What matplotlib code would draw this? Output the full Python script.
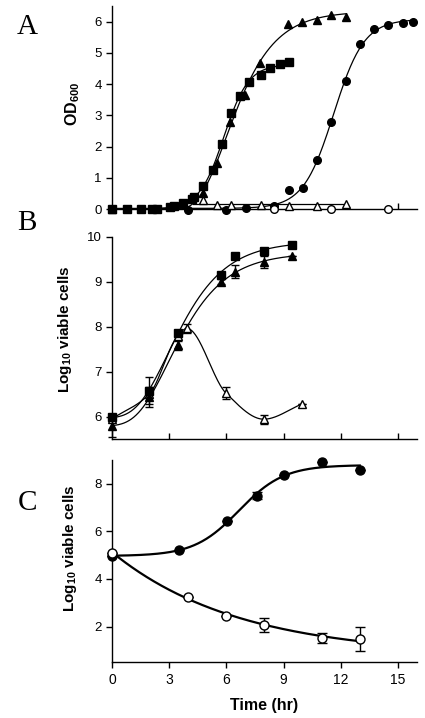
import numpy as np
import matplotlib
matplotlib.use("Agg")
import matplotlib.pyplot as plt

plt.rcParams['font.family'] = ['Liberation Sans', 'DejaVu Sans']
plt.rcParams['mathtext.default'] = 'regular'

# ---- panel A : OD600 ----
a_sq_t = [0.0, 0.8, 1.5, 2.1, 2.35, 3.05, 3.25, 3.75, 4.2, 4.3, 4.77, 5.28, 5.77, 6.26, 6.74, 7.17, 7.8, 8.3, 8.8, 9.3]
a_sq_y = [0.0, 0.0, 0.0, 0.0, 0.0, 0.05, 0.1, 0.2, 0.32, 0.37, 0.74, 1.25, 2.08, 3.07, 3.63, 4.08, 4.29, 4.52, 4.64, 4.70]
a_tri_t = [0.0, 4.77, 5.5, 6.2, 7.0, 7.75, 9.23, 9.98, 10.77, 11.5, 12.3]
a_tri_y = [0.0, 0.52, 1.46, 2.8, 3.65, 4.67, 5.93, 6.0, 6.06, 6.2, 6.14]
a_ci_t = [0.0, 4.0, 6.0, 7.04, 8.5, 9.28, 10.04, 10.77, 11.5, 12.3, 13.0, 13.75, 14.5, 15.25, 15.77]
a_ci_y = [0.0, -0.03, -0.03, 0.03, 0.1, 0.6, 0.66, 1.58, 2.78, 4.1, 5.27, 5.78, 5.9, 5.97, 6.0]
a_otri_t = [4.77, 5.5, 6.26, 7.8, 9.28, 10.77, 12.26]
a_otri_y = [0.29, 0.13, 0.13, 0.13, 0.1, 0.1, 0.16]
a_oci_t = [8.5, 11.47, 14.5]
a_oci_y = [0.0, 0.0, 0.0]

# ---- panel B : log10 viable cells ----
b_t = [0.0, 1.96, 3.46, 5.72, 6.47, 7.96, 9.46]
b_sq = [6.0, 6.57, 7.85, 9.15, 9.56, 9.67, 9.81]
b_sq_err = [0, 0.3, 0, 0.05, 0, 0.08, 0]
b_tri = [5.79, 6.44, 7.59, 9.0, 9.22, 9.44, 9.56]
b_tri_err = [0.25, 0.22, 0.1, 0.05, 0.15, 0.13, 0]
b_otri_t = [0.0, 1.96, 3.46, 3.93, 5.98, 7.96, 9.98]
b_otri = [5.95, 6.5, 7.8, 7.96, 6.52, 5.94, 6.28]
b_otri_err = [0, 0, 0, 0.1, 0.13, 0.1, 0]

# ---- panel C ----
c_fill_t = [0.0, 3.52, 6.03, 7.6, 9.0, 11.0, 13.0]
c_fill = [4.96, 5.21, 6.44, 7.49, 8.35, 8.93, 8.56]
c_fill_err = [0, 0, 0, 0.15, 0, 0, 0]
c_open_t = [0.0, 4.0, 6.0, 8.0, 11.0, 13.0]
c_open = [5.11, 3.26, 2.45, 2.07, 1.51, 1.48]
c_open_err = [0, 0, 0, 0.28, 0.22, 0.51]


def fit(t, y, kind):
    # least squares fit of offset + amplitude * shape(k, t0), grid over k, t0
    t = np.asarray(t, float)
    y = np.asarray(y, float)
    best = None
    for k in np.linspace(0.1, 3.0, 59):
        for t0 in np.linspace(t.min(), t.max(), 161):
            z = k * (t - t0)
            if kind == 'logistic':
                f = 1 / (1 + np.exp(-z))
            elif kind == 'gompertz':
                f = np.exp(-np.exp(-z))
            else:
                f = np.exp(-k * t)
            M = np.column_stack([np.ones_like(f), f])
            coef = np.linalg.lstsq(M, y, rcond=None)[0]
            err = ((M @ coef - y) ** 2).sum()
            if best is None or err < best[0]:
                best = (err, k, t0, coef)
    _, k, t0, coef = best

    def g(ts):
        z = k * (ts - t0)
        if kind == 'logistic':
            f = 1 / (1 + np.exp(-z))
        elif kind == 'gompertz':
            f = np.exp(-np.exp(-z))
        else:
            f = np.exp(-k * ts)
        return coef[0] + coef[1] * f
    return g


def pchip(x, y, xs):
    x = np.asarray(x, float)
    y = np.asarray(y, float)
    h = np.diff(x)
    d = np.diff(y) / h
    m = np.zeros_like(y)
    m[0], m[-1] = d[0], d[-1]
    for i in range(1, len(x) - 1):
        if d[i - 1] * d[i] > 0:
            w1 = 2 * h[i] + h[i - 1]
            w2 = h[i] + 2 * h[i - 1]
            m[i] = (w1 + w2) / (w1 / d[i - 1] + w2 / d[i])
    i = np.clip(np.searchsorted(x, xs) - 1, 0, len(x) - 2)
    s = (xs - x[i]) / h[i]
    h00 = 2 * s**3 - 3 * s**2 + 1
    h10 = s**3 - 2 * s**2 + s
    h01 = -2 * s**3 + 3 * s**2
    h11 = s**3 - s**2
    return h00 * y[i] + h10 * h[i] * m[i] + h01 * y[i + 1] + h11 * h[i] * m[i + 1]


fig = plt.figure(figsize=(4.25, 7.18), dpi=100)
axA = fig.add_axes([0.2635, 0.7089, 0.7176, 0.2827])
axB = fig.add_axes([0.2635, 0.3886, 0.7176, 0.2818])
axC = fig.add_axes([0.2635, 0.0776, 0.7176, 0.2818])

for ax in (axA, axB, axC):
    ax.spines['top'].set_visible(False)
    ax.spines['right'].set_visible(False)
    ax.spines['left'].set_linewidth(1.0)
    ax.spines['bottom'].set_linewidth(1.0)
    ax.set_xlim(0, 16)
    ax.tick_params(labelsize=9.5, width=1.0, length=4)

fk = dict(color='black', clip_on=False, zorder=3, linestyle='none')
op = dict(color='black', markerfacecolor='white', clip_on=False, zorder=4, linestyle='none')

# panel A
ts = np.linspace(0, max(a_tri_t), 300)
axA.plot(ts, fit(a_tri_t, a_tri_y, 'gompertz')(ts), color='black', lw=0.9, zorder=2)
ts = np.linspace(0, max(a_sq_t), 300)
axA.plot(ts, fit(a_sq_t, a_sq_y, 'logistic')(ts), color='black', lw=0.9, zorder=2)
ts = np.linspace(0, max(a_ci_t), 300)
axA.plot(ts, np.clip(fit(a_ci_t, a_ci_y, 'logistic')(ts), 0, None), color='black', lw=0.9, zorder=2)
axA.plot([min(a_otri_t) - 0.5, max(a_otri_t)], [np.mean(a_otri_y)] * 2, color='black', lw=0.9, zorder=2)
axA.plot(a_oci_t, a_oci_y, marker='o', ms=5.5, **op)
axA.plot(a_otri_t, a_otri_y, marker='^', ms=5.5, **op)
axA.plot(a_ci_t, a_ci_y, marker='o', ms=5.5, **fk)
axA.plot(a_tri_t, a_tri_y, marker='^', ms=5.5, **fk)
axA.plot(a_sq_t, a_sq_y, marker='s', ms=5.3, **fk)
axA.set_ylim(0, 6.5)
axA.set_yticks(range(0, 7))
axA.set_xticks([15])
axA.tick_params(axis='x', direction='in', labelbottom=False)
axA.set_ylabel('OD$_{600}$', fontsize=11.5, fontweight='bold')
axA.yaxis.set_label_coords(-0.098, 0.52)

# panel B
ts = np.linspace(0, max(b_t), 300)
axB.plot(ts, fit(b_t, b_sq, 'gompertz')(ts), color='black', lw=0.9, zorder=2)
axB.plot(ts, fit(b_t, b_tri, 'gompertz')(ts), color='black', lw=0.9, zorder=2)
ts = np.linspace(0, max(b_otri_t), 300)
axB.plot(ts, pchip(b_otri_t, b_otri, ts), color='black', lw=0.9, zorder=2)
axB.errorbar(b_otri_t, b_otri, yerr=b_otri_err, fmt='^', ms=6, mfc='white', mec='black',
             ecolor='black', elinewidth=1, capsize=3, clip_on=False, zorder=4)
axB.errorbar(b_t, b_tri, yerr=b_tri_err, fmt='^', ms=6, color='black',
             elinewidth=1, capsize=3, clip_on=False, zorder=5)
axB.errorbar(b_t, b_sq, yerr=b_sq_err, fmt='s', ms=5.8, color='black',
             elinewidth=1, capsize=3, clip_on=False, zorder=6)
axB.set_ylim(5.5, 10)
axB.set_yticks([6, 7, 8, 9, 10])
axB.set_xticks([3, 6, 9, 12, 15])
axB.tick_params(axis='x', direction='in', labelbottom=False)
axB.set_ylabel('Log$_{10}$ viable cells', fontsize=11, fontweight='bold')
axB.yaxis.set_label_coords(-0.125, 0.544)

# panel C
ts = np.linspace(0, max(c_fill_t), 300)
axC.plot(ts, fit(c_fill_t, c_fill, 'logistic')(ts), color='black', lw=1.6, zorder=2)
ts = np.linspace(0, max(c_open_t), 300)
axC.plot(ts, fit(c_open_t, c_open, 'decay')(ts), color='black', lw=1.6, zorder=2)
axC.errorbar(c_fill_t, c_fill, yerr=c_fill_err, fmt='o', ms=6.5, color='black',
             elinewidth=1, capsize=3.5, clip_on=False, zorder=4)
axC.errorbar(c_open_t, c_open, yerr=c_open_err, fmt='o', ms=6.5, mfc='white', mec='black',
             ecolor='black', elinewidth=1, capsize=3.5, clip_on=False, zorder=5)
axC.set_ylim(0.5, 9)
axC.set_yticks([2, 4, 6, 8])
axC.set_xticks([0, 3, 6, 9, 12, 15])
axC.tick_params(axis='x', labelsize=10)
axC.set_xlabel('Time (hr)', fontsize=11.5, fontweight='bold', labelpad=8)
axC.set_ylabel('Log$_{10}$ viable cells', fontsize=11, fontweight='bold')
axC.yaxis.set_label_coords(-0.108, 0.565)

for lab, y in (('A', 0.962), ('B', 0.69), ('C', 0.3)):
    fig.text(0.064, y, lab, fontsize=21, family=['Liberation Serif', 'DejaVu Serif'],
             ha='center', va='center')

fig.savefig('out.png', dpi=100)
